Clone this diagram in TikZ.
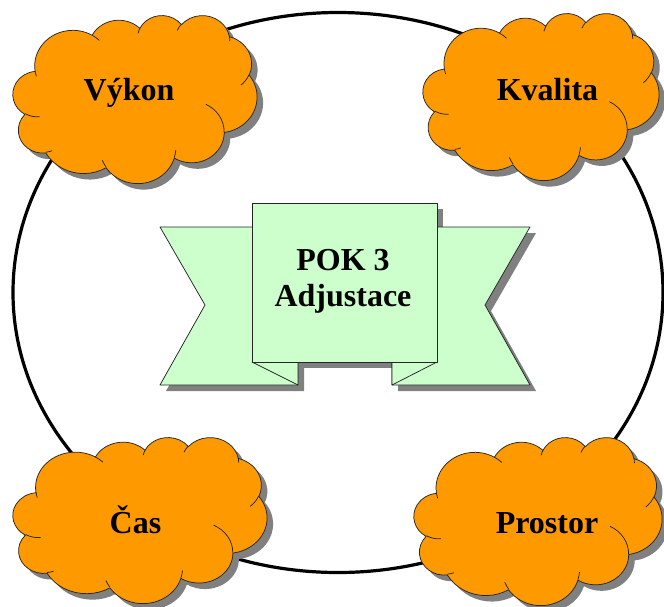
\documentclass[tikz,border=0pt]{standalone}
\usepackage{fontspec}
\setmainfont{Liberation Serif}
\definecolor{cloudfill}{HTML}{FF9900}
\definecolor{bannerfill}{HTML}{CCFFCC}
\definecolor{shadowgray}{HTML}{808080}
\tikzset{
  outline/.style={draw=black!85, line width=0.75pt, line join=round},
  cloudbody/.style={outline, fill=cloudfill},
  bannerbody/.style={outline, fill=bannerfill},
  crease/.style={draw=black!85, line width=0.75pt},
  dropshadow/.style={fill=shadowgray, draw=none},
  ring/.style={draw=black, line width=3.2pt},
  tag/.style={font=\bfseries\fontsize{32}{37}\selectfont, anchor=base, inner sep=0pt},
}
% Cloud outline in a 100 x 100 box (y pointing down)
\newcommand\cloudoutline{%
  (9.028,33.264)
  arc[start angle=-187.74, end angle=-59.64, x radius=15.632, y radius=21.273]
  arc[start angle=-152.02, end angle=-45.45, x radius=12.345, y radius=16.822]
  arc[start angle=-153.49, end angle=-37.33, x radius=10.104, y radius=13.762]
  arc[start angle=-139.69, end angle=-10.21, x radius=11.243, y radius=15.266]
  arc[start angle=-74.77, end angle=23.21, x radius=12.345, y radius=16.836]
  arc[start angle=-37.53, end angle=81.86, x radius=15.683, y radius=21.343]
  arc[start angle=0.46, end angle=121.98, x radius=13.391, y radius=18.211]
  arc[start angle=16.85, end angle=146.23, x radius=15.630, y radius=21.331]
  arc[start angle=58.98, end angle=150.19, x radius=17.870, y radius=24.405]
  arc[start angle=83.31, end angle=223.10, x radius=10.093, y radius=13.699]
  arc[start angle=120.35, end angle=264.12, x radius=10.058, y radius=13.762]
  -- cycle}
% Small inner creases between the puffs
\newcommand\cloudcreases{%
  (10.863,60.595) arc[start angle=85.55, end angle=120.35, x radius=10.058, y radius=13.762]
  (16.037,80.785) arc[start angle=68.23, end angle=83.31, x radius=10.093, y radius=13.699]
  (38.144,90.486) arc[start angle=146.23, end angle=158.47, x radius=15.630, y radius=21.331]
  (66.729,80.442) arc[start angle=4.74, end angle=16.85, x radius=15.630, y radius=21.331]
  (79.002,53.134) arc[start angle=-64.03, end angle=0.46, x radius=13.391, y radius=18.211]
  (96.755,35.542) arc[start angle=23.21, end angle=49.65, x radius=12.345, y radius=16.836]
  (88.713,12.560) arc[start angle=-10.21, end angle=0.82, x radius=11.243, y radius=15.266]
  (67.310,9.148) arc[start angle=-156.29, end angle=-139.69, x radius=11.243, y radius=15.266]
  (51.252,10.926) arc[start angle=-167.73, end angle=-153.49, x radius=10.104, y radius=13.762]
  (32.407,12.019) arc[start angle=-59.64, end angle=-45.73, x radius=15.632, y radius=21.273]
  (9.553,36.549) arc[start angle=163.19, end angle=172.25, x radius=15.632, y radius=21.273]}
% \drawcloud{left}{top}{width}{height}
\newcommand\drawcloud[4]{%
  \begin{scope}[shift={(#1+6,#2+6)}, xscale=#3/100, yscale=#4/100]
    \path[dropshadow] \cloudoutline;
  \end{scope}
  \begin{scope}[shift={(#1,#2)}, xscale=#3/100, yscale=#4/100]
    \path[cloudbody] \cloudoutline;
    \path[crease] \cloudcreases;
  \end{scope}}
\begin{document}
\begin{tikzpicture}[x=1pt, y=1pt, yscale=-1]
  \useasboundingbox (0,0) rectangle (664,606);

  % outer ring
  \path[ring] (338,292.5) ellipse [x radius=325, y radius=280];

  % four clouds
  \drawcloud{13}{15}{244}{168}
  \drawcloud{423}{13}{236}{167}
  \drawcloud{13}{437}{254}{166}
  \drawcloud{414}{437}{248}{168}

  % ribbon: shadow
  \begin{scope}[shift={(6,6)}]
    \path[dropshadow] (160,227) -- (298,227) -- (298,385) -- (160,385) -- (205,305) -- cycle;
    \path[dropshadow] (530,227) -- (392,227) -- (392,385) -- (530,385) -- (485,305) -- cycle;
    \path[dropshadow] (252,203) rectangle (437,362);
  \end{scope}
  % ribbon: wings, folds, front panel
  \path[bannerbody] (160,227) -- (298,227) -- (298,385) -- (160,385) -- (205,305) -- cycle;
  \path[bannerbody] (530,227) -- (392,227) -- (392,385) -- (530,385) -- (485,305) -- cycle;
  \path[bannerbody] (252,362) -- (298,385) -- (298,362) -- cycle;
  \path[bannerbody] (437,362) -- (392,385) -- (392,362) -- cycle;
  \path[bannerbody] (252,203) rectangle (437,362);

  % texts
  \node[tag] (pok) at (343,270) {POK 3};
  \node[tag] (adj) at (343,306.5) {Adjustace};
  \node[tag] (vykon) at (129,100) {Výkon};
  \node[tag] (kvalita) at (547.5,100) {Kvalita};
  \node[tag] (cas) at (135.5,533) {Čas};
  \node[tag] (prostor) at (547,533) {Prostor};
\end{tikzpicture}
\end{document}
